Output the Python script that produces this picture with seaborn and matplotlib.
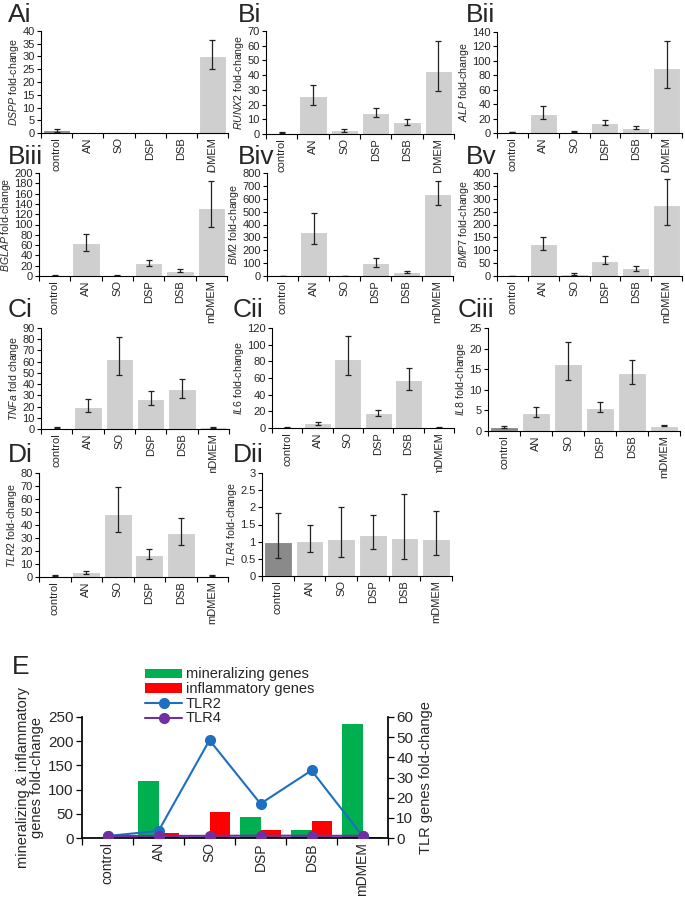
import numpy as np
import pandas as pd
import matplotlib
matplotlib.use("Agg")
import matplotlib.pyplot as plt
import seaborn as sns
from matplotlib.patches import Patch
from matplotlib.lines import Line2D
from matplotlib.ticker import FuncFormatter

sns.set_theme(style="white")
plt.rcParams['font.family'] = ['Liberation Sans', 'DejaVu Sans']
plt.rcParams['mathtext.fontset'] = 'custom'
plt.rcParams['mathtext.rm'] = 'Liberation Sans'
plt.rcParams['mathtext.it'] = 'Liberation Sans:italic'

categories = ["control", "AN", "SO", "DSP", "DSB", "mDMEM"]

# value, lower bound, upper bound of error bar
dspp = [1.0, 0, 0, 0, 0, 30.3]
dspp_lo = [0.5, 0, 0, 0, 0, 25.2]
dspp_hi = [1.5, 0, 0, 0, 0, 36.6]

runx2 = [1.0, 25.5, 2.5, 14.5, 8.0, 43.0]
runx2_lo = [0.7, 19.5, 1.5, 11.5, 6.0, 29.5]
runx2_hi = [1.3, 33.0, 3.5, 18.0, 10.5, 63.0]

alp = [1.0, 27.0, 2.0, 14.0, 7.0, 90.0]
alp_lo = [0.7, 19.0, 1.0, 10.5, 5.0, 63.0]
alp_hi = [1.3, 37.0, 3.0, 18.0, 9.5, 127.0]

bglap = [1.0, 64.0, 1.5, 25.0, 10.0, 133.0]
bglap_lo = [0.5, 49.0, 0.5, 19.0, 7.0, 96.0]
bglap_hi = [1.5, 82.0, 2.5, 32.0, 13.0, 184.0]

bm2 = [1.0, 345.0, 2.0, 100.0, 28.0, 640.0]
bm2_lo = [0.5, 245.0, 1.0, 70.0, 20.0, 550.0]
bm2_hi = [1.5, 490.0, 3.0, 140.0, 38.0, 740.0]

bmp7 = [1.0, 125.0, 6.0, 60.0, 30.0, 275.0]
bmp7_lo = [0.5, 102.0, 3.0, 47.0, 20.0, 200.0]
bmp7_hi = [1.5, 153.0, 10.0, 78.0, 40.0, 378.0]

tnfa = [1.0, 20.0, 62.0, 27.0, 36.0, 1.5]
tnfa_lo = [0.5, 15.5, 48.0, 21.0, 28.0, 1.0]
tnfa_hi = [1.5, 26.5, 82.0, 34.0, 45.0, 2.0]

il6 = [1.0, 5.5, 83.0, 17.5, 57.0, 1.0]
il6_lo = [0.5, 4.0, 64.0, 14.0, 45.0, 0.5]
il6_hi = [1.5, 7.0, 110.0, 22.0, 72.0, 1.5]

il8 = [1.0, 4.4, 16.3, 5.6, 14.0, 1.3]
il8_lo = [0.8, 3.3, 12.5, 4.5, 11.5, 1.1]
il8_hi = [1.2, 5.8, 21.5, 7.0, 17.3, 1.5]

tlr2 = [1.0, 3.5, 48.5, 17.0, 33.5, 1.0]
tlr2_lo = [0.5, 2.0, 34.5, 13.5, 25.0, 0.5]
tlr2_hi = [1.5, 5.0, 69.0, 21.5, 45.5, 1.5]

tlr4 = [1.0, 1.03, 1.07, 1.18, 1.1, 1.07]
tlr4_lo = [0.53, 0.70, 0.55, 0.78, 0.50, 0.60]
tlr4_hi = [1.83, 1.48, 2.00, 1.77, 2.38, 1.88]

# panel E summary
mineralizing = [1.0, 117.0, 2.0, 43.0, 16.0, 235.0]
inflammatory = [1.0, 10.0, 54.0, 16.0, 35.0, 1.3]

W, H = 685, 900
fig = plt.figure(figsize=(W / 100, H / 100), dpi=100)


def rect(l, t, r, b):
    return [l / W, 1 - b / H, (r - l) / W, (b - t) / H]


LIGHT = "#cfcfcf"
DARK = "#8a8a8a"

panels = [
    ("Ai", r"$\it{DSPP}$ fold-change", dspp, dspp_lo, dspp_hi, 40, 5, (41, 31, 228, 133), (8, 3)),
    ("Bi", r"$\it{RUNX2}$ fold-change", runx2, runx2_lo, runx2_hi, 70, 10, (266, 31, 454, 134), (238, 3)),
    ("Bii", r"$\it{ALP}$ fold-change", alp, alp_lo, alp_hi, 140, 20, (497, 32, 682, 133), (466, 3)),
    ("Biii", r"$\it{BGLAP}$ fold-change", bglap, bglap_lo, bglap_hi, 200, 20, (39, 173, 227, 276), (8, 145)),
    ("Biv", r"$\it{BM2}$ fold-change", bm2, bm2_lo, bm2_hi, 800, 100, (267, 173, 453, 276), (238, 145)),
    ("Bv", r"$\it{BMP7}$ fold-change", bmp7, bmp7_lo, bmp7_hi, 400, 50, (497, 173, 682, 276), (466, 145)),
    ("Ci", r"$\it{TNFa}$ fold change", tnfa, tnfa_lo, tnfa_hi, 90, 10, (41, 328, 229, 429), (8, 298)),
    ("Cii", r"$\it{IL6}$ fold-change", il6, il6_lo, il6_hi, 120, 20, (272, 328, 454, 428), (233, 298)),
    ("Ciii", r"$\it{IL8}$ fold-change", il8, il8_lo, il8_hi, 25, 5, (488, 328, 680, 431), (458, 298)),
    ("Di", r"$\it{TLR2}$ fold-change", tlr2, tlr2_lo, tlr2_hi, 80, 10, (39, 473, 228, 577), (8, 443)),
    ("Dii", r"$\it{TLR4}$ fold-change", tlr4, tlr4_lo, tlr4_hi, 3, 0.5, (262, 473, 452, 576), (233, 443)),
]

fmt = FuncFormatter(lambda v, p: f"{v:g}")

for name, ylab, vals, lo, hi, ymax, ystep, r, lab in panels:
    ax = fig.add_axes(rect(*r))
    df = pd.DataFrame({"cat": categories, "val": vals})
    pal = {c: (DARK if c == "control" else LIGHT) for c in categories}
    sns.barplot(data=df, x="cat", y="val", hue="cat", palette=pal, legend=False,
                width=0.88, edgecolor="white", linewidth=0.8, saturation=1, ax=ax)
    v = np.array(vals)
    yerr = np.vstack([v - np.array(lo), np.array(hi) - v])
    xs = np.arange(len(categories))
    mask = (yerr.sum(axis=0) > 0)
    ax.errorbar(xs[mask], v[mask], yerr=yerr[:, mask], fmt="none", ecolor="#222222",
                elinewidth=0.9, capsize=2.5, capthick=0.9)
    ax.set_xlim(-0.5, len(categories) - 0.5)
    ax.set_ylim(0, ymax)
    ax.set_yticks(np.arange(0, ymax + ystep / 2, ystep))
    ax.yaxis.set_major_formatter(fmt)
    ax.set_xticks(np.arange(-0.5, len(categories), 1.0))
    ax.set_xticklabels([])
    ax.set_xticks(xs, minor=True)
    ax.set_xticklabels(categories, minor=True, rotation=90, fontsize=8)
    ax.tick_params(axis="x", which="major", direction="out", length=3.5, width=0.8, bottom=True, color="black")
    ax.tick_params(axis="x", which="minor", length=0, pad=3)
    ax.tick_params(axis="y", direction="out", length=3, width=0.8, left=True, labelsize=8, pad=1.5, color="black")
    for s in ["top", "right"]:
        ax.spines[s].set_visible(False)
    for s in ["left", "bottom"]:
        ax.spines[s].set_color("black")
        ax.spines[s].set_linewidth(0.8)
    ax.set_xlabel("")
    ax.set_ylabel(ylab, fontsize=7.6, labelpad=1)
    fig.text(lab[0] / W, 1 - lab[1] / H, name, fontsize=19, va="top", ha="left")

# Panel E
axE = fig.add_axes(rect(82, 717, 388, 838))
dfE = pd.DataFrame({
    "cat": categories * 2,
    "val": mineralizing + inflammatory,
    "group": ["mineralizing genes"] * 6 + ["inflammatory genes"] * 6,
})
sns.barplot(data=dfE, x="cat", y="val", hue="group",
            palette={"mineralizing genes": "#00b050", "inflammatory genes": "#ff0000"},
            width=0.8, saturation=1, legend=False, edgecolor="none", ax=axE)
axE.set_xlim(-0.5, 5.5)
axE.set_ylim(0, 250)
axE.set_yticks(np.arange(0, 251, 50))
axE.set_xticks(np.arange(-0.5, 6, 1.0))
axE.set_xticklabels([])
axE.set_xticks(np.arange(6), minor=True)
axE.set_xticklabels(categories, minor=True, rotation=90, fontsize=10)
axE.tick_params(axis="x", which="major", direction="out", length=5, width=0.9, bottom=True, color="black")
axE.tick_params(axis="x", which="minor", length=0, pad=3)
axE.tick_params(axis="y", direction="out", length=4, width=0.9, left=True, labelsize=11, pad=2, color="black")
axE.set_xlabel("")
axE.set_ylabel("mineralizing & inflammatory\ngenes fold-change", fontsize=10.5, labelpad=3, linespacing=1.0)
for s in ["top", "right"]:
    axE.spines[s].set_visible(False)
for s in ["left", "bottom"]:
    axE.spines[s].set_color("black")

ax2 = axE.twinx()
xpos = np.arange(len(categories))
ax2.plot(xpos, tlr2, color="#1f6fc0", marker="o", markersize=7, linewidth=1.5, zorder=5)
ax2.plot(xpos, tlr4, color="#7030a0", marker="o", markersize=7, linewidth=1.5, zorder=6)
ax2.set_ylim(0, 60)
ax2.set_yticks(np.arange(0, 61, 10))
ax2.tick_params(axis="y", direction="out", length=4, width=0.9, right=True, labelsize=11, pad=2, color="black")
ax2.set_ylabel("TLR genes fold-change", fontsize=10.5, labelpad=4)
for s in ["top", "left", "bottom"]:
    ax2.spines[s].set_visible(False)
ax2.spines["right"].set_color("black")
ax2.grid(False)
axE.grid(False)

handles = [
    Patch(facecolor="#00b050", edgecolor="none"),
    Patch(facecolor="#ff0000", edgecolor="none"),
    Line2D([0], [0], color="#1f6fc0", marker="o", markersize=7, linewidth=1.5),
    Line2D([0], [0], color="#7030a0", marker="o", markersize=7, linewidth=1.5),
]
fig.legend(handles, ["mineralizing genes", "inflammatory genes", "TLR2", "TLR4"],
           loc="upper left", bbox_to_anchor=(138 / W, 1 - 660 / H), frameon=False,
           fontsize=10.5, handlelength=2.5, handleheight=0.6, handletextpad=0.3,
           labelspacing=0.05, borderpad=0)
fig.text(12 / W, 1 - 655 / H, "E", fontsize=19, va="top", ha="left")

fig.savefig("out.png", dpi=100)
